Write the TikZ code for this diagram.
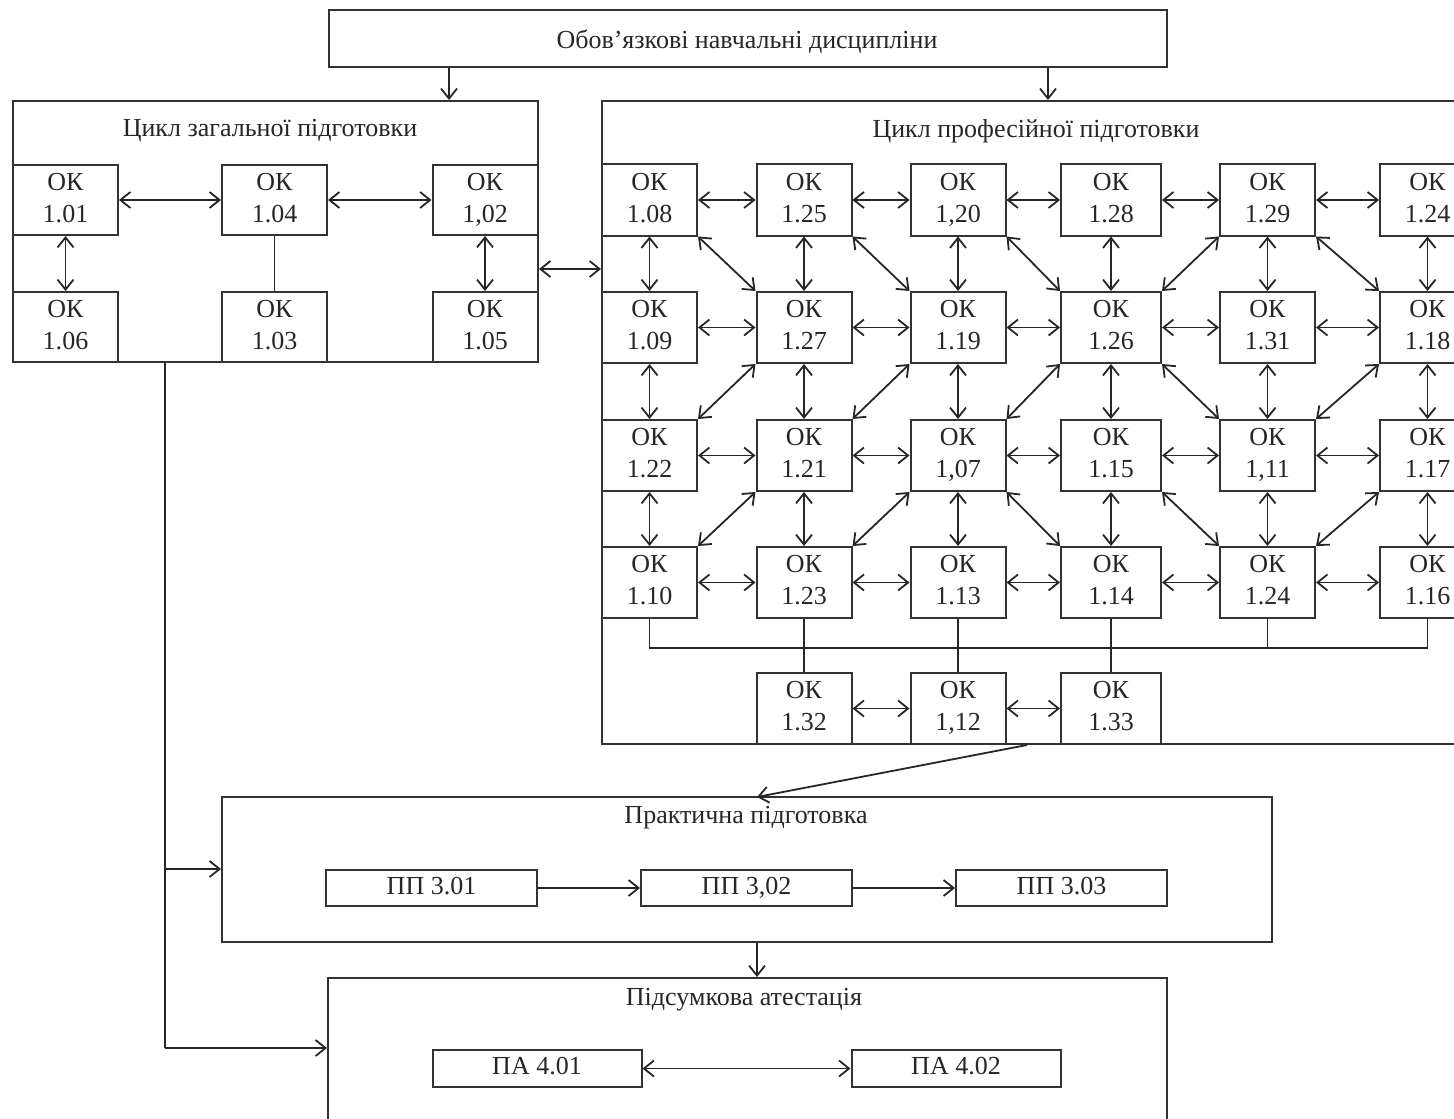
\documentclass[tikz,border=0pt]{standalone}
\usepackage{fontspec}
\setmainfont{Liberation Serif}
\usetikzlibrary{arrows.meta}
\newcommand\okn[5][okbox]{\node[#1] (#2) at (#3,#4) {\strut ОК\\\strut #5};}
\begin{document}
\begin{tikzpicture}[x=0.5pt,y=-0.5pt,
  every node/.style={font=\fontsize{13}{16}\selectfont, text=black!85},
  frame/.style={draw=black!80, line width=1pt, inner sep=0pt},
  okbox/.style={frame, minimum width=47.5pt, minimum height=35.5pt, align=center},
  okwide/.style={okbox, minimum width=50pt},
  genbox/.style={frame, minimum width=52.5pt, minimum height=35pt, align=center},
  smallbox/.style={frame, minimum width=105.5pt, minimum height=18pt, text height=9pt, text depth=3pt},
  conn/.style={draw=black!85, line width=0.9pt},
  bi/.style={conn, {Straight Barb[length=5pt,width=8pt]}-{Straight Barb[length=5pt,width=8pt]}},
  arr/.style={conn, -{Straight Barb[length=5pt,width=8pt]}}]
\useasboundingbox (0,0) rectangle (1454,1118);
\clip (0,0) rectangle (1454,1118);

% top box
\node[frame, minimum width=419pt, minimum height=28.5pt] (top) at (748,38.5) {};
\node (topt) at (747,42) {Обов’язкові навчальні дисципліни};

% general cycle
\node[frame, minimum width=262.5pt, minimum height=130.5pt] (gen) at (275.5,231.5) {};
\node (gent) at (270,131) {Цикл загальної підготовки};
\okn[genbox]{g101}{65.5}{200}{1.01}
\okn[genbox]{g104}{274.5}{200}{1.04}
\okn[genbox]{g102}{485}{200}{1,02}
\okn[genbox]{g106}{65.5}{327}{1.06}
\okn[genbox]{g103}{274.5}{327}{1.03}
\okn[genbox]{g105}{485}{327}{1.05}

% professional cycle
\node[frame, minimum width=444pt, minimum height=321.5pt] (prof) at (1046,422.5) {};
\node (proft) at (1036,131) {Цикл професійної підготовки};
% row 1
\okn{k108}{649.5}{200}{1.08}
\okn{k125}{804}{200}{1.25}
\okn{k120}{958}{200}{1,20}
\okn[okwide]{k128}{1111}{200}{1.28}
\okn{k129}{1267.5}{200}{1.29}
\okn{k124a}{1427.5}{200}{1.24}
% row 2
\okn{k109}{649.5}{327.5}{1.09}
\okn{k127}{804}{327.5}{1.27}
\okn{k119}{958}{327.5}{1.19}
\okn[okwide]{k126}{1111}{327.5}{1.26}
\okn{k131}{1267.5}{327.5}{1.31}
\okn{k118}{1427.5}{327.5}{1.18}
% row 3
\okn{k122}{649.5}{455.5}{1.22}
\okn{k121}{804}{455.5}{1.21}
\okn{k107}{958}{455.5}{1,07}
\okn[okwide]{k115}{1111}{455.5}{1.15}
\okn{k111}{1267.5}{455.5}{1,11}
\okn{k117}{1427.5}{455.5}{1.17}
% row 4
\okn{k110}{649.5}{582.5}{1.10}
\okn{k123}{804}{582.5}{1.23}
\okn{k113}{958}{582.5}{1.13}
\okn[okwide]{k114}{1111}{582.5}{1.14}
\okn{k124b}{1267.5}{582.5}{1.24}
\okn{k116}{1427.5}{582.5}{1.16}
% row 5
\okn{k132}{804}{708.5}{1.32}
\okn{k112}{958}{708.5}{1,12}
\okn[okwide]{k133}{1111}{708.5}{1.33}

% practical
\node[frame, minimum width=525pt, minimum height=72.5pt] (prac) at (747,869.5) {};
\node (pract) at (746,818) {Практична підготовка};
\node[smallbox] (p301) at (431.5,888) {ПП 3.01};
\node[smallbox] (p302) at (746.5,888) {ПП 3,02};
\node[smallbox] (p303) at (1061.5,888) {ПП 3.03};

% attestation
\node[frame, minimum width=419.5pt, minimum height=76pt] (att) at (747.5,1054) {};
\node (attt) at (744,1000) {Підсумкова атестація};
\node[smallbox, minimum width=104.5pt, minimum height=18.5pt] (pa401) at (537,1068.5) {ПА 4.01};
\node[smallbox, minimum width=104.5pt, minimum height=18.5pt] (pa402) at (956,1068.5) {ПА 4.02};

% helper coordinates
\coordinate (ta) at (449,0);
\coordinate (tb) at (1048,0);
\coordinate (gp) at (0,269);
\coordinate (bus) at (0,648);
\coordinate (pp) at (1027,745);
\coordinate (pq) at (757,797);
\coordinate (mid) at (757,0);
\coordinate (L0) at (165,0);
\coordinate (L1) at (165,869);
\coordinate (L2) at (165,1048);

% top arrows
\draw[arr] (top.south -| ta) -- (gen.north -| ta);
\draw[arr] (top.south -| tb) -- (prof.north -| tb);

% general cycle connectors
\draw[bi] (g101.east) -- (g104.west);
\draw[bi] (g104.east) -- (g102.west);
\draw[bi] (g101.south) -- (g106.north);
\draw[conn] (g104.south) -- (g103.north);
\draw[bi] (g102.south) -- (g105.north);
\draw[bi] (gen.east |- gp) -- (prof.west |- gp);

% professional grid
\foreach \a/\b in {k108/k125,k125/k120,k120/k128,k128/k129,k129/k124a,
  k109/k127,k127/k119,k119/k126,k126/k131,k131/k118,
  k122/k121,k121/k107,k107/k115,k115/k111,k111/k117,
  k110/k123,k123/k113,k113/k114,k114/k124b,k124b/k116,
  k132/k112,k112/k133}
  \draw[bi] (\a.east) -- (\b.west);
\foreach \a/\b in {k108/k109,k109/k122,k122/k110,k125/k127,k127/k121,k121/k123,
  k120/k119,k119/k107,k107/k113,k128/k126,k126/k115,k115/k114,
  k129/k131,k131/k111,k111/k124b,k124a/k118,k118/k117,k117/k116}
  \draw[bi] (\a.south) -- (\b.north);
\foreach \a/\b in {k108/k127,k125/k119,k120/k126,k129/k118,k126/k111,k107/k114,k115/k124b}
  \draw[bi] (\a.south east) -- (\b.north west);
\foreach \a/\b in {k129/k126,k127/k122,k119/k121,k126/k107,k118/k111,k121/k110,k107/k123,k117/k124b}
  \draw[bi] (\a.south west) -- (\b.north east);

% bus and links to bottom row
\draw[conn] (k110.south) -- (k110.south |- bus) -- (k116.south |- bus) -- (k116.south);
\draw[conn] (k124b.south) -- (k124b.south |- bus);
\draw[conn] (k123.south) -- (k132.north);
\draw[conn] (k113.south) -- (k112.north);
\draw[conn] (k114.south) -- (k133.north);

% professional -> practical -> attestation
\draw[arr] (pp) -- (pq);
\draw[arr] (p301.east) -- (p302.west);
\draw[arr] (p302.east) -- (p303.west);
\draw[arr] (prac.south -| mid) -- (att.north -| mid);
\draw[bi] (pa401.east) -- (pa402.west);

% left feed line
\draw[conn] (gen.south -| L0) -- (L2);
\draw[arr] (L1) -- (prac.west |- L1);
\draw[arr] (L2) -- (att.west |- L2);
\end{tikzpicture}
\end{document}
